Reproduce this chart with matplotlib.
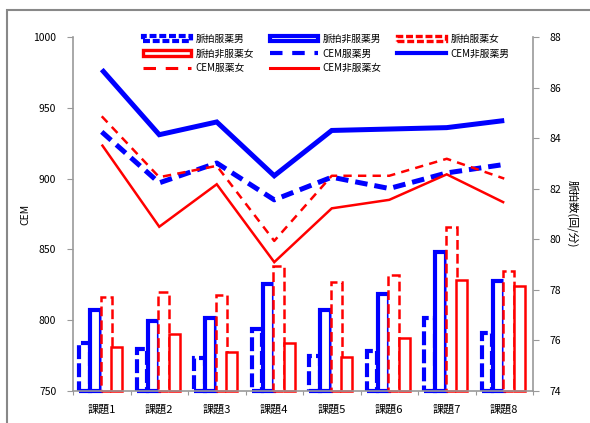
import matplotlib
matplotlib.use("Agg")
import matplotlib.pyplot as plt
import numpy as np
from matplotlib.patches import Patch, Rectangle
from matplotlib.lines import Line2D

plt.rcParams['font.family'] = ['Noto Sans CJK JP', 'DejaVu Sans']
plt.rcParams['lines.scale_dashes'] = False

categories = ['課題1', '課題2', '課題3', '課題4', '課題5', '課題6', '課題7', '課題8']

# 脈拍数 (回/分) — bars on the right axis
pulse_med_m = [75.9, 75.65, 75.3, 76.45, 75.4, 75.6, 76.9, 76.3]
pulse_non_m = [77.2, 76.75, 76.9, 78.25, 77.2, 77.85, 79.5, 78.35]
pulse_med_f = [77.7, 77.9, 77.8, 78.95, 78.3, 78.6, 80.5, 78.75]
pulse_non_f = [75.75, 76.25, 75.55, 75.9, 75.35, 76.1, 78.4, 78.15]

# CEM — lines on the left axis
cem_med_m = [933, 897, 911, 885, 901, 893, 904, 910]
cem_non_m = [977, 931, 940, 902, 934, 935, 936, 941]
cem_med_f = [944, 901, 909, 856, 902, 902, 914, 900]
cem_non_f = [924, 866, 896, 841, 879, 885, 903, 883]

BLUE = '#0000FF'
RED = '#FF0000'
GREY = '#999999'

fig = plt.figure(figsize=(5.9, 4.23), dpi=100)
W, H = 590, 423
ax = fig.add_axes([73 / W, 1 - 391 / H, 460 / W, 354 / H])
ax2 = ax.twinx()
ax.set_zorder(ax2.get_zorder() + 1)
ax.patch.set_visible(False)

x = np.arange(len(categories))
bw = 0.19
bar_specs = [
    (pulse_med_m, -0.30, BLUE, 3.0, (0, (10, 3))),
    (pulse_non_m, -0.107, BLUE, 3.0, 'solid'),
    (pulse_med_f, 0.077, RED, 1.8, (0, (7, 3))),
    (pulse_non_f, 0.263, RED, 1.8, 'solid'),
]
bar_base = 74
for vals, off, col, lw, ls in bar_specs:
    heights = np.array(vals) - bar_base
    bars = ax2.bar(x + off, heights, bw, bottom=bar_base, facecolor='white',
                   edgecolor=col, linewidth=lw, linestyle=ls)
    for b in bars:
        b.set_clip_on(False)

line_specs = [
    (cem_med_m, BLUE, 3.6, (0, (9, 5))),
    (cem_non_m, BLUE, 3.6, 'solid'),
    (cem_med_f, RED, 1.8, (0, (6, 4.5))),
    (cem_non_f, RED, 1.8, 'solid'),
]
for vals, col, lw, ls in line_specs:
    ax.plot(x, vals, color=col, linewidth=lw, linestyle=ls,
            solid_capstyle='butt', dash_capstyle='butt', solid_joinstyle='miter')

ax.set_xlim(-0.5, len(categories) - 0.5)
ax.set_ylim(750, 1000)
ax.set_yticks([750, 800, 850, 900, 950, 1000])
ax2.set_ylim(74, 88)
ax2.set_yticks(np.arange(74, 89, 2))

# category boundary ticks on x
ax.set_xticks(np.arange(-0.5, len(categories), 1.0))
ax.set_xticklabels([])
ax.set_xticks(x, minor=True)
ax.set_xticklabels(categories, minor=True, fontsize=8)
ax.tick_params(axis='x', which='minor', length=0, pad=10)
ax.tick_params(axis='x', which='major', length=3, color=GREY, direction='out')

for a in (ax, ax2):
    for s in a.spines.values():
        s.set_visible(False)
ax.spines['left'].set_visible(True)
ax.spines['left'].set_color(GREY)
ax.spines['left'].set_linewidth(1.2)
ax.spines['bottom'].set_visible(True)
ax.spines['bottom'].set_color(GREY)
ax.spines['bottom'].set_linewidth(1.2)
ax2.spines['right'].set_visible(True)
ax2.spines['right'].set_color(GREY)
ax2.spines['right'].set_linewidth(1.2)

ax.tick_params(axis='y', length=4, color=GREY, labelsize=7.5, pad=8)
ax2.tick_params(axis='y', length=4, color=GREY, labelsize=7.5, pad=8)

ax.set_ylabel('CEM', fontsize=7.5, labelpad=2)
ax2.set_ylabel('脈拍数(回/分)', fontsize=8, rotation=270, labelpad=12)

# legend, row-major order across three columns
labels = ['脈拍服薬男', '脈拍非服薬男', '脈拍服薬女', '脈拍非服薬女',
          'CEM服薬男', 'CEM非服薬男', 'CEM服薬女', 'CEM非服薬女']
handles = [
    Patch(facecolor='white', edgecolor=BLUE, linewidth=3.0, linestyle=(0, (5, 2))),
    Patch(facecolor='white', edgecolor=BLUE, linewidth=3.0),
    Patch(facecolor='white', edgecolor=RED, linewidth=2.4, linestyle=(0, (5, 2))),
    Patch(facecolor='white', edgecolor=RED, linewidth=2.4),
    Line2D([], [], color=BLUE, linewidth=3.0, linestyle=(0, (9, 7))),
    Line2D([], [], color=BLUE, linewidth=3.0),
    Line2D([], [], color=RED, linewidth=2.2, linestyle=(0, (9, 7))),
    Line2D([], [], color=RED, linewidth=2.2),
]
order = [0, 3, 6, 1, 4, 7, 2, 5]
fig.legend([handles[i] for i in order], [labels[i] for i in order],
           ncol=3, loc='upper left', bbox_to_anchor=(136 / W, 1 - 27 / H),
           frameon=False, fontsize=7, handlelength=5.0, handleheight=0.45,
           handletextpad=0.45, columnspacing=1.6, labelspacing=0.48,
           borderpad=0.2)

# chart area border
fig.add_artist(Rectangle((7 / W, -0.1), 1.2, 1 - 10 / H + 0.1,
                         transform=fig.transFigure, fill=False,
                         edgecolor='#888888', linewidth=1.5))

fig.savefig('out.png', dpi=100)
